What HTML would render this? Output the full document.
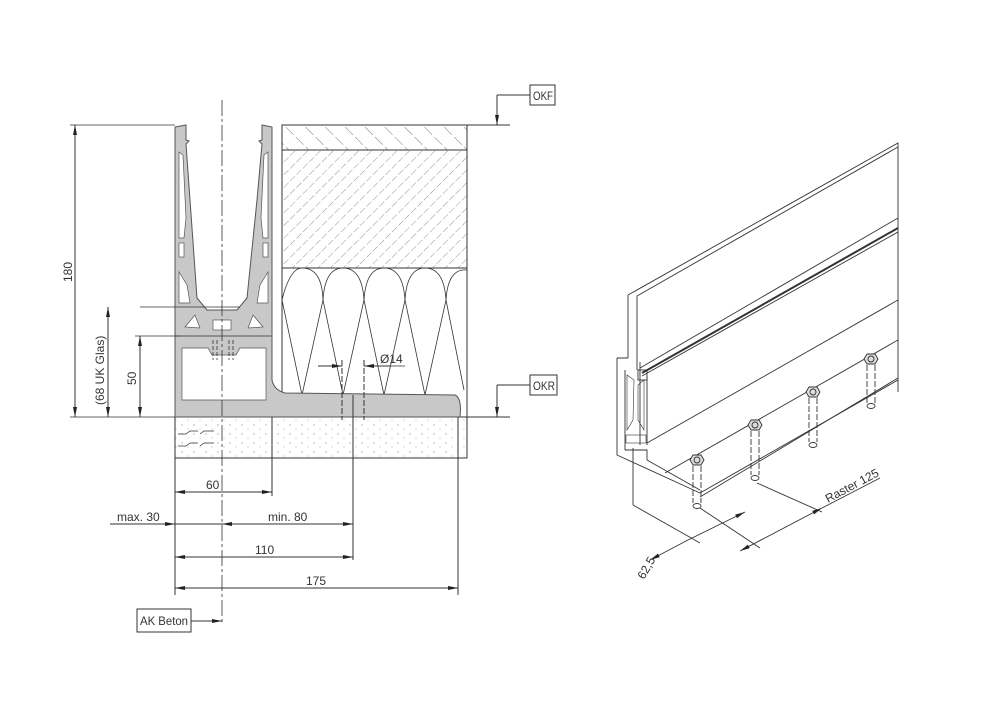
<!DOCTYPE html>
<html><head><meta charset="utf-8"><style>
html,body{margin:0;padding:0;background:#fff}
svg{display:block}
text{font-family:"Liberation Sans",sans-serif;fill:#333}
</style></head><body>
<svg width="998" height="714" viewBox="0 0 998 714" xmlns="http://www.w3.org/2000/svg">
<defs>
<marker id="a" viewBox="0 0 10 4" refX="10" refY="2" markerWidth="10" markerHeight="4" orient="auto-start-reverse" markerUnits="userSpaceOnUse"><path d="M0,0L10,2L0,4z" fill="#222"/></marker>
<pattern id="h1" width="9" height="9" patternUnits="userSpaceOnUse" patternTransform="rotate(45)"><line x1="0" y1="0" x2="0" y2="9" stroke="#666" stroke-width="0.7" stroke-dasharray="4 2"/></pattern>
<pattern id="h2" width="14" height="14" patternUnits="userSpaceOnUse" patternTransform="rotate(-45)"><line x1="0" y1="0" x2="0" y2="14" stroke="#555" stroke-width="0.8" stroke-dasharray="9 3"/></pattern>
<pattern id="dots" width="12" height="9" patternUnits="userSpaceOnUse"><circle cx="2" cy="2" r="0.6" fill="#888"/><circle cx="8" cy="6" r="0.5" fill="#999"/></pattern>
</defs>
<g stroke="#333" stroke-width="1" fill="none">
<rect x="282" y="125" width="185" height="25" fill="url(#h2)"/>
<rect x="282" y="150" width="185" height="118" fill="url(#h1)"/>
<line x1="282" y1="150" x2="467" y2="150"/>
<line x1="282" y1="268" x2="467" y2="268"/>
<line x1="282" y1="125" x2="282" y2="393"/>
<line x1="467" y1="125" x2="467" y2="458"/>
<g stroke-width="0.8">
<path d="M282,300 Q290,268 302,268 Q322,268 323,300 L302,395 Z"/>
<path d="M323,300 Q325,268 343,268 Q362,268 364,300 L343,395 Z"/>
<path d="M364,300 Q366,268 384,268 Q403,268 405,300 L384,395 Z"/>
<path d="M405,300 Q407,268 425,268 Q444,268 446,300 L425,395 Z"/>
<path d="M446,300 Q448,268 467,270"/>
<path d="M446,300 L464,390"/>
</g>
<rect x="175" y="417" width="292" height="41" fill="url(#dots)"/>
<line x1="175" y1="417" x2="510" y2="417"/>
<line x1="175" y1="458" x2="467" y2="458"/>
<path d="M178,434 h8 l4,-3 h8 M178,446 h8 l4,-3 h8 M200,434 l4,-3 h10 M200,446 l4,-3 h10" stroke-width="0.7"/>
<path d="M175,127 L186,125 L186,140 L189,141 L186,144 L190,200 L197,298 L207,310 L237,310 L247,298 L257,200 L262,144 L259,141 L262,140 L262,125 L272,127 L272,380 Q274,390 285,393 L455,395 Q462,398 460,417 L175,417 Z" fill="#c8c8c8" stroke="#555"/>
<path d="M179,152 L183,155 L186,218 L184,238 L179,238 Z M268,152 L264,155 L261,218 L263,238 L268,238 Z" fill="#fff" stroke="#555" stroke-width="0.7"/>
<rect x="179" y="243" width="5" height="14" fill="#fff" stroke="#555" stroke-width="0.7"/>
<rect x="263" y="243" width="5" height="14" fill="#fff" stroke="#555" stroke-width="0.7"/>
<path d="M179,272 L187,285 L190,303 L179,303 Z M268,272 L260,285 L257,303 L268,303 Z" fill="#fff" stroke="#555" stroke-width="0.7"/>
<path d="M185,327 L195,315 L200,328 Z M263,327 L253,315 L248,328 Z" fill="#fff" stroke="#555" stroke-width="0.7"/>
<rect x="213" y="320" width="18" height="10" fill="#fff" stroke="#555" stroke-width="0.7"/>
<path d="M182,348 L208,348 L212,355 L236,355 L240,348 L266,348 L266,400 L182,400 Z" fill="#fff" stroke="#555" stroke-width="0.7"/>
<line x1="175" y1="336" x2="272" y2="336" stroke="#555"/>
<path d="M213,340 v20 M217,340 v20 M229,340 v20 M233,340 v20" stroke-dasharray="4 2" stroke-width="0.8"/>
<line x1="222" y1="100" x2="222" y2="625" stroke-dasharray="16 3 3 3" stroke-width="0.8"/>
<line x1="140" y1="307" x2="240" y2="307" stroke-width="0.8"/>
<line x1="70" y1="125" x2="175" y2="125" stroke-width="0.8"/>
<line x1="70" y1="417" x2="175" y2="417" stroke-width="0.8"/>
<line x1="75" y1="125" x2="75" y2="417" marker-start="url(#a)" marker-end="url(#a)"/>
<line x1="108" y1="307" x2="108" y2="417" marker-start="url(#a)" marker-end="url(#a)"/>
<line x1="135" y1="336" x2="180" y2="336" stroke-width="0.8"/>
<line x1="140" y1="336" x2="140" y2="417" marker-start="url(#a)" marker-end="url(#a)"/>
<line x1="342" y1="360" x2="342" y2="420" stroke-dasharray="6 2"/>
<line x1="353" y1="395" x2="353" y2="560"/>
<line x1="364" y1="360" x2="364" y2="420" stroke-dasharray="6 2"/>
<line x1="318" y1="366" x2="342" y2="366" marker-end="url(#a)"/>
<line x1="390" y1="366" x2="364" y2="366" marker-end="url(#a)"/>
<line x1="375" y1="366" x2="405" y2="366" stroke-width="0.8"/>
<line x1="175" y1="417" x2="175" y2="595"/>
<line x1="272" y1="417" x2="272" y2="496"/>
<line x1="458" y1="417" x2="458" y2="595"/>
<line x1="175" y1="492" x2="272" y2="492" marker-start="url(#a)" marker-end="url(#a)"/>
<line x1="110" y1="524" x2="175" y2="524" marker-end="url(#a)"/>
<line x1="175" y1="524" x2="222" y2="524"/>
<line x1="222" y1="524" x2="353" y2="524" marker-start="url(#a)" marker-end="url(#a)"/>
<line x1="175" y1="557" x2="353" y2="557" marker-start="url(#a)" marker-end="url(#a)"/>
<line x1="175" y1="588" x2="458" y2="588" marker-start="url(#a)" marker-end="url(#a)"/>
<rect x="137" y="609" width="54" height="23" fill="#fff"/>
<line x1="191" y1="621" x2="222" y2="621" marker-end="url(#a)"/>
<line x1="467" y1="125" x2="510" y2="125"/>
<line x1="497" y1="95" x2="497" y2="125" marker-end="url(#a)"/>
<line x1="497" y1="95" x2="530" y2="95"/>
<rect x="530" y="85" width="25" height="20"/>
<line x1="497" y1="385" x2="497" y2="417" marker-end="url(#a)"/>
<line x1="497" y1="385" x2="530" y2="385"/>
<rect x="530" y="375" width="27" height="20"/>
</g>
<g font-size="12">
<text x="206" y="489">60</text>
<text x="117" y="521">max. 30</text>
<text x="268" y="521">min. 80</text>
<text x="255" y="554">110</text>
<text x="306" y="585">175</text>
<text x="140" y="625" textLength="48" lengthAdjust="spacingAndGlyphs">AK Beton</text>
<text x="533" y="100" textLength="20" lengthAdjust="spacingAndGlyphs">OKF</text>
<text x="533" y="390" textLength="22" lengthAdjust="spacingAndGlyphs">OKR</text>
<text x="380" y="363">Ø14</text>
<text transform="translate(72,282) rotate(-90)">180</text>
<text transform="translate(104,405) rotate(-90)">(68 UK Glas)</text>
<text transform="translate(136,385) rotate(-90)">50</text>
</g>
<g stroke="#333" stroke-width="0.9" fill="none">
<path d="M628,295 L898,143 L898,392"/>
<line x1="628" y1="295" x2="628" y2="358"/>
<line x1="637" y1="296" x2="637" y2="370"/>
<line x1="637" y1="296" x2="898" y2="147"/>
<line x1="640" y1="368" x2="898" y2="218"/>
<line x1="642" y1="373" x2="898" y2="228" stroke-width="2"/>
<line x1="642" y1="376" x2="898" y2="232"/>
<rect x="638" y="370" width="9" height="10"/>
<line x1="647" y1="376" x2="647" y2="445"/>
<line x1="647" y1="443" x2="898" y2="300"/>
<line x1="665" y1="473" x2="898" y2="340"/>
<line x1="700" y1="497" x2="898" y2="378"/>
<line x1="700" y1="493" x2="898" y2="380"/>
<path d="M617,358 L628,358 M617,358 L617,455 L700,493"/>
<path d="M625,370 L625,450 M640,362 L640,445 M625,450 L647,450 L647,460 M647,460 L700,490"/>
<path d="M627,375 L634,380 L633,420 L627,430 Z M644,380 L638,385 L638,420 L644,430 Z" stroke-width="0.6"/>
<rect x="626" y="435" width="20" height="8" stroke-width="0.6"/>
<line x1="633" y1="448" x2="633" y2="505"/>
<line x1="633" y1="505" x2="700" y2="543"/>
<line x1="700" y1="508" x2="760" y2="548"/>
<line x1="757" y1="483" x2="822" y2="512"/>
<line x1="688" y1="540" x2="745" y2="512" marker-end="url(#a)"/>
<line x1="650" y1="560" x2="688" y2="540" marker-start="url(#a)"/>
<line x1="740" y1="551" x2="822" y2="508" marker-start="url(#a)" marker-end="url(#a)"/>
<line x1="822" y1="508" x2="880" y2="478"/>
<g>
<g transform="translate(697,460)"><path d="M-7,0 L-4,-5 L4,-5 L7,0 L4,5 L-4,5 Z" fill="#ddd"/><circle r="3"/><line x1="-4" y1="6" x2="-4" y2="43" stroke-dasharray="6 2"/><line x1="4" y1="6" x2="4" y2="43" stroke-dasharray="6 2"/><ellipse cy="46" rx="4" ry="2.5"/></g>
<g transform="translate(755,425)"><path d="M-7,0 L-4,-5 L4,-5 L7,0 L4,5 L-4,5 Z" fill="#ddd"/><circle r="3"/><line x1="-4" y1="6" x2="-4" y2="50" stroke-dasharray="6 2"/><line x1="4" y1="6" x2="4" y2="50" stroke-dasharray="6 2"/><ellipse cy="53" rx="4" ry="2.5"/></g>
<g transform="translate(813,392)"><path d="M-7,0 L-4,-5 L4,-5 L7,0 L4,5 L-4,5 Z" fill="#ddd"/><circle r="3"/><line x1="-4" y1="6" x2="-4" y2="50" stroke-dasharray="6 2"/><line x1="4" y1="6" x2="4" y2="50" stroke-dasharray="6 2"/><ellipse cy="53" rx="4" ry="2.5"/></g>
<g transform="translate(871,359)"><path d="M-7,0 L-4,-5 L4,-5 L7,0 L4,5 L-4,5 Z" fill="#ddd"/><circle r="3"/><line x1="-4" y1="6" x2="-4" y2="44" stroke-dasharray="6 2"/><line x1="4" y1="6" x2="4" y2="44" stroke-dasharray="6 2"/><ellipse cy="47" rx="4" ry="2.5"/></g>
</g>
</g>
<g font-size="12">
<text transform="translate(644,580) rotate(-60)">62,5</text>
<text transform="translate(828,503) rotate(-28)">Raster 125</text>
</g>
</svg>
</body></html>
